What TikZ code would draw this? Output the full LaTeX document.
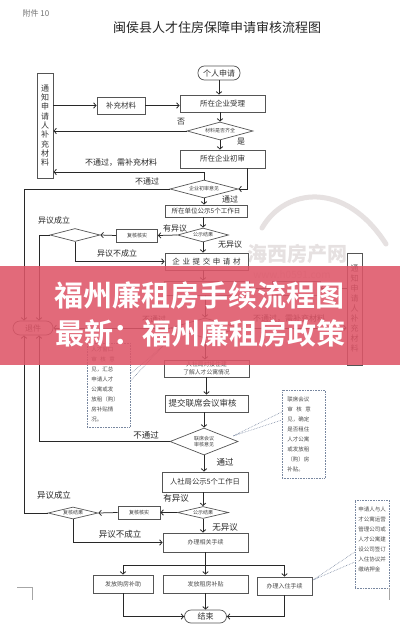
\documentclass[tikz,border=0pt]{standalone}
\usepackage{fontspec}
\setmainfont{Noto Sans CJK SC}
\newfontfamily\cjkbold{Noto Sans CJK SC Bold}
\usetikzlibrary{arrows.meta,shapes.geometric,calc}
\definecolor{ln}{RGB}{40,40,40}
\definecolor{bx}{RGB}{85,85,85}
\definecolor{dotc}{RGB}{120,135,160}
\definecolor{band}{RGB}{222,86,104}
\definecolor{wm}{RGB}{230,225,225}
\begin{document}
\begin{tikzpicture}[x=1pt,y=-1pt,
  box/.style={draw=bx, line width=0.7pt, rectangle, inner sep=0pt, align=center, text=black!80, font=\fontsize{7.5}{9}\selectfont},
  sbox/.style={box, font=\fontsize{6}{9}\selectfont, text=black!70},
  dia/.style={draw=bx, line width=0.7pt, diamond, shape aspect=3.5, inner sep=0pt, align=center, text=black!75, font=\fontsize{5}{6.5}\selectfont},
  term/.style={draw=bx, line width=0.7pt, rectangle, rounded corners=6.5pt, inner sep=0pt, text=black!80, font=\fontsize{8}{9}\selectfont},
  vbox/.style={draw=bx, line width=0.7pt, rectangle, inner sep=0pt, align=center, text=black!80, font=\fontsize{8}{9.3}\selectfont},
  note/.style={draw=dotc, densely dotted, line width=0.6pt, rectangle, inner sep=0pt, align=left, text=black!70, font=\fontsize{5.5}{9.9}\selectfont},
  lab/.style={inner sep=0pt, text=black!85, font=\fontsize{8}{9}\selectfont},
  conn/.style={draw=ln, line width=0.75pt},
  arr/.style={conn, -{Straight Barb[length=2.6pt,width=5.5pt]}},
  callout/.style={draw=dotc, densely dotted, line width=0.6pt}
]
\useasboundingbox (0,0) rectangle (400,632);
\fill[white] (0,0) rectangle (400,632);

% watermark
\draw[wm, line width=5pt, line cap=round] (262,228) .. controls (285,188) and (345,180) .. (386,244);
\node[text=wm, font=\bfseries\fontsize{20}{20}\selectfont, inner sep=0pt] (wm1) at (297,254) {海西房产网};
\node[text=wm, font=\fontsize{10}{10}\selectfont, inner sep=0pt] (wm2) at (292,275) {www.h0591.com};

% header
\node[text=black!55, font=\fontsize{8}{9}\selectfont, inner sep=0pt] (att) at (36,13.5) {附件 10};
\node[text=black!85, font=\fontsize{13}{14}\selectfont, inner sep=0pt] (title) at (217,27.5) {闽侯县人才住房保障申请审核流程图};

% upper part
\node[term, minimum width=42pt, minimum height=14pt] (apply) at (219,73) {个人申请};
\node[box, minimum width=85pt, minimum height=17pt] (accept) at (222.5,103.5) {所在企业受理};
\node[box, minimum width=48pt, minimum height=17pt] (supp1) at (121,105.5) {补充材料};
\node[vbox, minimum width=16pt, minimum height=105pt] (notify1) at (45,125.5) {通\\知\\申\\请\\人\\补\\充\\材\\料};
\node[dia, minimum width=66pt, minimum height=18pt] (check1) at (220,131) {材料是否齐全};
\node[box, minimum width=85pt, minimum height=18pt] (first) at (222.5,159) {所在企业初审};
\node[dia, minimum width=68pt, minimum height=18pt] (d2) at (204,189) {企业初审意见};
\node[box, minimum width=82pt, minimum height=12pt, font=\fontsize{6.5}{8}\selectfont] (pub1) at (206,211) {所在单位公示5个工作日};
\node[dia, minimum width=51pt, minimum height=14pt] (d3) at (203,235) {公示结果};
\node[box, minimum width=41pt, minimum height=13pt, font=\fontsize{5}{6}\selectfont] (rev1) at (137,235.5) {复核核实};
\node[dia, minimum width=50pt, minimum height=13pt] (d4) at (75,235) {};
\node[box, minimum width=83pt, minimum height=17pt] (submit) at (206.5,261.5) {企\hspace{2.6pt}业\hspace{2.6pt}提\hspace{2.6pt}交\hspace{2.6pt}申\hspace{2.6pt}请\hspace{2.6pt}材};

% middle part (under banner)
\node[sbox, minimum width=85pt, minimum height=14pt] (hr1) at (206.5,288) {};
\node[sbox, minimum width=48pt, minimum height=14pt] (supp2) at (296,288) {};
\node[vbox, minimum width=15pt, minimum height=112pt, font=\fontsize{8}{10}\selectfont] (notify2) at (354.5,309) {通\\知\\申\\请\\人\\补\\充\\材\\料};
\node[dia, minimum width=70pt, minimum height=20pt] (d5) at (205,328) {};
\node[term, minimum width=40pt, minimum height=14pt, rounded corners=7pt] (ret) at (33,328) {退件};
\node[note, minimum width=43pt, minimum height=84pt] (note1) at (108.5,385) {};
\node[note, anchor=north west, draw=none, minimum height=0pt] (note1t) at (91,347) {人才窗口\\审\hspace{3.5pt}核\hspace{3.5pt}意\\见，汇总\\申请人才\\公寓或发\\放租（购）\\房补贴情\\况。};
\node[sbox, minimum width=85pt, minimum height=17pt, font=\fontsize{5.8}{8.5}\selectfont] (link) at (206.5,368.5) {人社局对接住建\\了解人才公寓情况};
\node[box, minimum width=83pt, minimum height=17pt, font=\fontsize{8.5}{9}\selectfont] (joint) at (206.5,403.5) {提交联席会议审核\hspace{8pt}};
\node[note, minimum width=43pt, minimum height=88pt] (note2) at (303.5,434) {};
\node[note, anchor=north west, draw=none] (note2t) at (287,397) {联席会议\\审\hspace{3.5pt}核\hspace{3.5pt}意\\见，确定\\是否租住\\人才公寓\\或发放租\\（购）房\\补贴。};

% lower part
\node[dia, minimum width=68pt, minimum height=27pt] (d6) at (204,441.5) {联席会议\\审核意见};
\node[box, minimum width=86pt, minimum height=20pt, font=\fontsize{7.3}{9}\selectfont] (pub2) at (205,482) {人社局公示5个工作日};
\node[dia, minimum width=51pt, minimum height=12pt] (d7) at (203,512.5) {公示结果};
\node[box, minimum width=42pt, minimum height=13pt, font=\fontsize{5}{6}\selectfont] (rev2) at (139,512.5) {复核核实};
\node[dia, minimum width=50pt, minimum height=12pt] (d8) at (73,513) {复核结果};
\node[sbox, minimum width=85pt, minimum height=19pt] (handle) at (205.5,542.5) {办理相关手续};
\node[sbox, minimum width=60pt, minimum height=18pt] (buy) at (123,584) {发放购房补助};
\node[sbox, minimum width=85pt, minimum height=18pt] (rent) at (205.5,584) {发放租房补贴};
\node[sbox, minimum width=55pt, minimum height=18pt] (move) at (284.5,586) {办理入住手续};
\node[term, minimum width=42pt, minimum height=13pt] (end) at (205.5,616.5) {结束};
\node[note, minimum width=34pt, minimum height=88pt] (note3) at (372,544) {};
\node[note, anchor=north west, draw=none] (note3t) at (358,507) {申请人与人\\才公寓运营\\管理公司或\\人才公寓建\\设公司签订\\入住协议并\\缴纳押金};

% helper coordinates
\coordinate (y172) at (0,172);
\coordinate (sp) at (205.5,565);
\coordinate (t1) at (163,346);
\coordinate (t2) at (233,436);
\coordinate (t3) at (313,580);

% connectors upper
\draw[arr] (apply.south) -- (apply.south |- accept.north);
\draw[arr] (notify1.east |- supp1.west) -- (supp1.west);
\draw[arr] (supp1.east) -- (supp1.east -| accept.west);
\draw[arr] (check1.north |- accept.south) -- (check1.north);
\draw[arr] (check1.west) -- (check1.west -| notify1.east);
\draw[arr] (check1.south) -- (check1.south |- first.north);
\draw[arr] ([xshift=24.5pt]first.south) |- (d2.east);
\draw[arr] (d2.north) -- (d2.north |- y172) -- (notify1.east |- y172);
\draw[arr] (d2.west) -| ([xshift=-9pt]ret.north);
\draw[arr] (d2.south) -- (d2.south |- pub1.north);
\draw[arr] (d3.north |- pub1.south) -- (d3.north);
\draw[arr] (d3.west) -- (rev1.east);
\draw[arr] (rev1.west) -- (d4.east);
\draw[arr] (d4.west) -| ([xshift=6pt]ret.north);
\draw[arr] (d4.south) |- (submit.west);
\draw[arr] (d3.south) -- (d3.south |- submit.north);

% connectors middle
\draw[arr] (d3.south |- submit.south) -- (d3.south |- hr1.north);
\draw[arr] (notify2.west |- supp2.east) -- (supp2.east);
\draw[arr] (supp2.west) -- (hr1.east);
\draw[arr] (d5.north |- hr1.south) -- (d5.north);
\draw[arr] (d5.west) -- (ret.east);
\draw[arr] (d5.east) -- (d5.east -| notify2.west);
\draw[arr] (d5.south) -- (d5.south |- link.north);
\draw[arr] (link.south) -- (link.south |- joint.north);
\draw[arr] (d6.north |- joint.south) -- (d6.north);

% connectors lower
\draw[arr] (d6.west) -| ([xshift=6pt]ret.south);
\draw[arr] (d6.south) -- (d6.south |- pub2.north);
\draw[arr] (d7.north |- pub2.south) -- (d7.north);
\draw[arr] (d7.west) -- (rev2.east);
\draw[arr] (rev2.west) -- (d8.east);
\draw[arr] (d8.west) -| ([xshift=-9pt]ret.south);
\draw[arr] (d8.south) |- (handle.west);
\draw[arr] (d7.south) -- (d7.south |- handle.north);
\draw[conn] (handle.south) -- (sp);
\draw[arr] (sp) -| (buy.north);
\draw[arr] (sp) -| (move.north);
\draw[arr] (sp) -- (rent.north);
\draw[arr] (buy.south) |- (end.west);
\draw[arr] (rent.south) -- (end.north);
\draw[arr] (move.south) |- (end.east);

% callout pointers
\draw[callout] ([yshift=11pt]note1.east) -- (t1) -- ([yshift=4pt]note1.east);
\draw[callout] ([yshift=22pt]note2.west) -- (t2) -- ([yshift=14pt]note2.west);
\draw[callout] ([yshift=-8pt]note3.west) -- (t3) -- ([yshift=-18pt]note3.west);

% page marks
\draw[black!35, line width=0.6pt] (17,587) -- (32,587) -- (32,600);
\draw[black!35, line width=0.6pt] (note3.south east) -- ++(0,12);

% labels
\node[lab] (l1) at (181,122) {否};
\node[lab] (l2) at (241,142) {是};
\node[lab] (l3) at (121,163) {不通过，需补充材料};
\node[lab] (l4) at (147,181) {不通过};
\node[lab] (l5) at (230,199) {通过};
\node[lab] (l6) at (175,228) {有异议};
\node[lab] (l7) at (230,245) {无异议};
\node[lab] (l8) at (54,220) {异议成立};
\node[lab] (l9) at (117,253) {异议不成立};
\node[lab] (l10) at (154,319) {不通过};
\node[lab] (l11) at (289,319) {不通过，需补充材料};
\node[lab, font=\fontsize{8.5}{9}\selectfont] (l12) at (146,435) {不通过};
\node[lab, font=\fontsize{8.5}{9}\selectfont] (l13) at (225,462) {通过};
\node[lab, font=\fontsize{8.5}{9}\selectfont] (l14) at (54,495) {异议成立};
\node[lab, font=\fontsize{8.5}{9}\selectfont] (l15) at (176,498) {有异议};
\node[lab, font=\fontsize{8.5}{9}\selectfont] (l16) at (225,527) {无异议};
\node[lab, font=\fontsize{8.5}{9}\selectfont] (l17) at (120,534) {异议不成立};

% banner
\fill[band, fill opacity=0.88] (0,266) rectangle (400,365);
\node[text=white, font=\cjkbold\fontsize{29}{29}\selectfont, inner sep=0pt] (bn1) at (199,296) {福州廉租房手续流程图};
\node[text=white, font=\cjkbold\fontsize{29}{29}\selectfont, inner sep=0pt] (bn2) at (200,333) {最新：福州廉租房政策};
\end{tikzpicture}
\end{document}
